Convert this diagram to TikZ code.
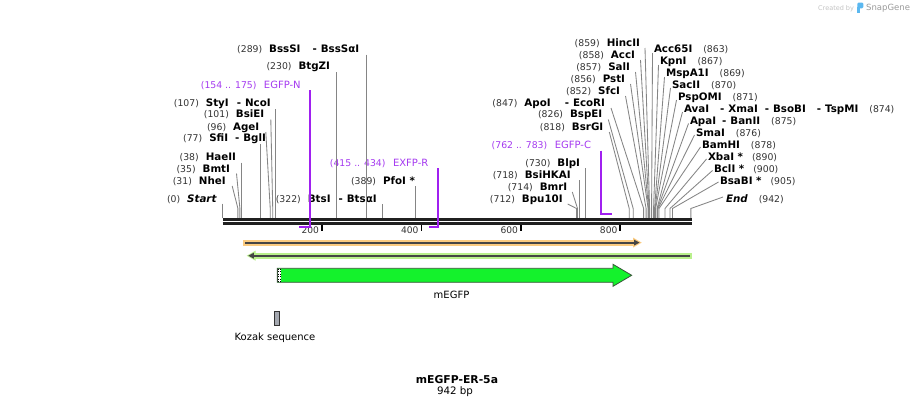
\documentclass[tikz,border=0pt]{standalone}
\usepackage{fontspec}
\setmainfont{DejaVu Sans}
\usetikzlibrary{arrows.meta}
\definecolor{numgray}{HTML}{333333}
\definecolor{sitegray}{HTML}{858585}
\definecolor{bbcol}{HTML}{202020}
\definecolor{primerpurple}{HTML}{A020F0}
\definecolor{primertext}{HTML}{A53AF0}
\definecolor{bandorange}{HTML}{FBCB80}
\definecolor{bandgreen}{HTML}{B9F08C}
\definecolor{banddark}{HTML}{454545}
\definecolor{egfpgreen}{HTML}{14F22C}
\definecolor{egfpedge}{HTML}{3A553A}
\definecolor{kozakgray}{HTML}{A4A8B0}
\definecolor{creditlight}{HTML}{C4C4C4}
\definecolor{creditdark}{HTML}{9A9A9A}
\definecolor{logoblue}{HTML}{5BB8F0}
\newcommand{\snum}[1]{{\fontsize{9.3}{11}\selectfont\color{numgray}#1}}
\newcommand{\sname}[1]{{\fontsize{10.3}{12}\selectfont\bfseries #1}}
\newcommand{\ssep}[1]{\hspace{#1pt}-\hspace{4pt}}
\newcommand{\pnum}[1]{{\fontsize{9.3}{11}\selectfont #1}}
\newcommand{\pname}[1]{{\fontsize{10}{12}\selectfont #1}}
\begin{document}
\begin{tikzpicture}[x=1pt,y=-1pt,
  lefttag/.style={anchor=base east, inner sep=0pt, outer sep=0pt},
  righttag/.style={anchor=base west, inner sep=0pt, outer sep=0pt},
  siteline/.style={draw=sitegray, line width=0.85pt},
  primerline/.style={draw=primerpurple, line width=2pt, line join=miter},
  backbone/.style={draw=bbcol, line width=2.7pt},
  tickmark/.style={draw=black, line width=1.6pt},
  ticklab/.style={anchor=base east, inner sep=0pt, font=\fontsize{9.1}{11}\selectfont, text=numgray},
  plainlab/.style={anchor=base, inner sep=0pt, font=\fontsize{10}{12}\selectfont}
  ]
\useasboundingbox (0,0) rectangle (915,407);
\fill[white] (0,0) rectangle (915,407);

% site coordinates
\foreach \b in {0,31,35,38,77,96,101,107,230,289,322,389,712,714,718,730,818,826,847,852,856,857,858,859,863,867,869,870,871,874,875,876,878,890,900,905,942} {
  \coordinate (s\b) at ({222.5+0.4972*\b},218.3);
  \coordinate (k\b) at ({222.5+0.4972*\b},208.5);
}
\foreach \b in {154,175,415,434} {
  \coordinate (pb\b) at ({222.5+0.4972*\b},227.3);
}
\foreach \b in {762,783} {
  \coordinate (pc\b) at ({222.5+0.4972*\b},214.3);
}

% ---------- labels, left part ----------
\node[lefttag] (lStart) at (216.5,202) {\snum{(0)}\hspace{7pt}\sname{\itshape Start}};
\node[lefttag] (lNheI) at (225.7,184) {\snum{(31)}\hspace{7pt}\sname{NheI}};
\node[lefttag] (lBmtI) at (230,172) {\snum{(35)}\hspace{7pt}\sname{BmtI}};
\node[lefttag] (lHaeII) at (236,160) {\snum{(38)}\hspace{7pt}\sname{HaeII}};
\node[lefttag] (lSfiI) at (266,141.5) {\snum{(77)}\hspace{7pt}\sname{SfiI\ssep{7}BglI}};
\node[lefttag] (lAgeI) at (259.3,130) {\snum{(96)}\hspace{7pt}\sname{AgeI}};
\node[lefttag] (lBsiEI) at (264.3,117.5) {\snum{(101)}\hspace{7pt}\sname{BsiEI}};
\node[lefttag] (lStyI) at (270.7,106) {\snum{(107)}\hspace{7pt}\sname{StyI\ssep{8}NcoI}};
\node[lefttag, text=primertext] (lEGFPN) at (300.7,88) {\pnum{(154 .. 175)}\hspace{7.5pt}\pname{EGFP-N}};
\node[lefttag] (lBtgZI) at (330,69.5) {\snum{(230)}\hspace{7pt}\sname{BtgZI}};
\node[lefttag] (lBssSI) at (359.3,52) {\snum{(289)}\hspace{7pt}\sname{BssSI\ssep{12}BssSαI}};
\node[lefttag] (lBtsI) at (376.7,202) {\snum{(322)}\hspace{7pt}\sname{BtsI\ssep{8}BtsαI}};
\node[lefttag] (lPfoI) at (415,184) {\snum{(389)}\hspace{7pt}\sname{PfoI *}};
\node[lefttag, text=primertext] (lEXFPR) at (428.3,166) {\pnum{(415 .. 434)}\hspace{7.5pt}\pname{EXFP-R}};

% ---------- labels, right part ----------
\node[lefttag] (lBpu10I) at (562.7,202) {\snum{(712)}\hspace{7pt}\sname{Bpu10I}};
\node[lefttag] (lBmrI) at (567.3,190) {\snum{(714)}\hspace{7pt}\sname{BmrI}};
\node[lefttag] (lBsiHKAI) at (570.7,178) {\snum{(718)}\hspace{7pt}\sname{BsiHKAI}};
\node[lefttag] (lBlpI) at (580,166) {\snum{(730)}\hspace{7pt}\sname{BlpI}};
\node[lefttag, text=primertext] (lEGFPC) at (591,148.5) {\pnum{(762 .. 783)}\hspace{7.5pt}\pname{EGFP-C}};
\node[lefttag] (lBsrGI) at (603.3,130) {\snum{(818)}\hspace{7pt}\sname{BsrGI}};
\node[lefttag] (lBspEI) at (602.3,117.5) {\snum{(826)}\hspace{7pt}\sname{BspEI}};
\node[lefttag] (lApoI) at (605,106) {\snum{(847)}\hspace{7pt}\sname{ApoI\ssep{14}EcoRI}};
\node[lefttag] (lSfcI) at (620,94) {\snum{(852)}\hspace{7pt}\sname{SfcI}};
\node[lefttag] (lPstI) at (625,82) {\snum{(856)}\hspace{7pt}\sname{PstI}};
\node[lefttag] (lSalI) at (630,70) {\snum{(857)}\hspace{7pt}\sname{SalI}};
\node[lefttag] (lAccI) at (635,58) {\snum{(858)}\hspace{7pt}\sname{AccI}};
\node[lefttag] (lHincII) at (640,46) {\snum{(859)}\hspace{7pt}\sname{HincII}};

\node[righttag] (lAcc65I) at (654,52) {\sname{Acc65I}\hspace{11pt}\snum{(863)}};
\node[righttag] (lKpnI) at (660,64) {\sname{KpnI}\hspace{11pt}\snum{(867)}};
\node[righttag] (lMspA1I) at (666,76) {\sname{MspA1I}\hspace{11pt}\snum{(869)}};
\node[righttag] (lSacII) at (672,88) {\sname{SacII}\hspace{11pt}\snum{(870)}};
\node[righttag] (lPspOMI) at (678,100) {\sname{PspOMI}\hspace{11pt}\snum{(871)}};
\node[righttag] (lAvaI) at (684,112) {\sname{AvaI\ssep{11}XmaI\ssep{7}BsoBI\ssep{11}TspMI}\hspace{11pt}\snum{(874)}};
\node[righttag] (lApaI) at (690,124) {\sname{ApaI\ssep{6}BanII}\hspace{11pt}\snum{(875)}};
\node[righttag] (lSmaI) at (696,136) {\sname{SmaI}\hspace{11pt}\snum{(876)}};
\node[righttag] (lBamHI) at (702,148) {\sname{BamHI}\hspace{11pt}\snum{(878)}};
\node[righttag] (lXbaI) at (708,160) {\sname{XbaI *}\hspace{9pt}\snum{(890)}};
\node[righttag] (lBclI) at (714,172) {\sname{BclI *}\hspace{9pt}\snum{(900)}};
\node[righttag] (lBsaBI) at (720,184) {\sname{BsaBI *}\hspace{9pt}\snum{(905)}};
\node[righttag] (lEnd) at (726,202) {\sname{\itshape End}\hspace{11pt}\snum{(942)}};

% ---------- site lines ----------
\draw[siteline] (lStart.base -| s0) ++(0,1.5) -- (s0);
\draw[siteline] ([shift={(6.5,2)}]lNheI.base east) -- (k31) -- (s31);
\draw[siteline] ([shift={(6.5,1.5)}]lBmtI.base east) -- (k35) -- (s35);
\draw[siteline] (lHaeII.base -| s38) ++(0,2.5) -- (s38);
\draw[siteline] (lSfiI.base -| s77) ++(0,2.5) -- (s77);
\draw[siteline] ([shift={(6.5,2)}]lAgeI.base east) -- (k96) -- (s96);
\draw[siteline] ([shift={(6.5,2)}]lBsiEI.base east) -- (k101) -- (s101);
\draw[siteline] (lStyI.base -| s107) ++(0,3) -- (s107);
\draw[siteline] (lBtgZI.base -| s230) ++(0,2.5) -- (s230);
\draw[siteline] (lBssSI.base -| s289) ++(0,2.5) -- (s289);
\draw[siteline] (lBtsI.base -| s322) ++(0,2) -- (s322);
\draw[siteline] (lPfoI.base -| s389) ++(0,2) -- (s389);

\draw[siteline] ([shift={(5,2)}]lBpu10I.base east) -- (k712) -- (s712);
\draw[siteline] ([shift={(5,2)}]lBmrI.base east) -- (k714) -- (s714);
\draw[siteline] (lBsiHKAI.base -| s718) ++(0,2) -- (s718);
\draw[siteline] (lBlpI.base -| s730) ++(0,2) -- (s730);
\draw[siteline] ([shift={(6,2)}]lBsrGI.base east) -- (k818) -- (s818);
\draw[siteline] ([shift={(6,2)}]lBspEI.base east) -- (k826) -- (s826);
\draw[siteline] ([shift={(6,2)}]lApoI.base east) -- (k847) -- (s847);
\draw[siteline] ([shift={(5.5,2)}]lSfcI.base east) -- (k852) -- (s852);
\draw[siteline] ([shift={(5.5,2)}]lPstI.base east) -- (k856) -- (s856);
\draw[siteline] ([shift={(5.5,2)}]lSalI.base east) -- (k857) -- (s857);
\draw[siteline] ([shift={(5.5,2)}]lAccI.base east) -- (k858) -- (s858);
\draw[siteline] ([shift={(5,2)}]lHincII.base east) -- (k859) -- (s859);

\draw[siteline] ([shift={(-1.5,1)}]lAcc65I.base west) -- (k863) -- (s863);
\draw[siteline] ([shift={(-1.5,1)}]lKpnI.base west) -- (k867) -- (s867);
\draw[siteline] ([shift={(-1.5,1)}]lMspA1I.base west) -- (k869) -- (s869);
\draw[siteline] ([shift={(-1.5,0)}]lSacII.base west) -- (k870) -- (s870);
\draw[siteline] ([shift={(-1.5,0)}]lPspOMI.base west) -- (k871) -- (s871);
\draw[siteline] ([shift={(-1.5,0)}]lAvaI.base west) -- (k874) -- (s874);
\draw[siteline] ([shift={(-1.5,-0.5)}]lApaI.base west) -- (k875) -- (s875);
\draw[siteline] ([shift={(-1.5,-1)}]lSmaI.base west) -- (k876) -- (s876);
\draw[siteline] ([shift={(-1.5,-1)}]lBamHI.base west) -- (k878) -- (s878);
\draw[siteline] ([shift={(-1.5,-1)}]lXbaI.base west) -- (k890) -- (s890);
\draw[siteline] ([shift={(-1.5,-1.5)}]lBclI.base west) -- (k900) -- (s900);
\draw[siteline] ([shift={(-1.5,-2)}]lBsaBI.base west) -- (k905) -- (s905);
\draw[siteline] ([shift={(-3,-5)}]lEnd.base west) -- (k942) -- (s942);

% ---------- backbone ----------
\coordinate (bbA1) at (222.5,219.6);
\coordinate (bbB1) at (691.5,219.6);
\coordinate (bbA2) at (222.5,223.7);
\coordinate (bbB2) at (691.5,223.7);
\draw[backbone] (bbA1) -- (bbB1);
\draw[backbone] (bbA2) -- (bbB2);

% ---------- ticks ----------
\foreach \t in {200,400,600,800} {
  \coordinate (tk\t) at ({222.5+0.4972*\t},225);
  \coordinate (tb\t) at ({222.5+0.4972*\t},231);
  \draw[tickmark] (tk\t) -- (tb\t);
  \node[ticklab] (tl\t) at ({222.5+0.4972*\t-2.7},233.2) {\t};
}

% ---------- primers ----------
\draw[primerline] (lEGFPN.base -| pb175) ++(0,2) -- (pb175) -- (pb154);
\draw[primerline] (lEXFPR.base -| pb434) ++(0,2) -- (pb434) -- (pb415);
\draw[primerline] (lEGFPC.base -| pc762) ++(0,2) -- (pc762) -- (pc783);

% ---------- orange band (forward) ----------
\fill[bandorange] (242.7,239.6) rectangle (634.5,245.6);
\fill[bandorange] (633,237.6) -- (641.7,242.6) -- (633,247.6) -- cycle;
\coordinate (obS) at (245,242.6);
\coordinate (obE) at (635,242.6);
\draw[banddark, line width=2pt] (obS) -- (obE);
\fill[banddark] (634,239.6) -- (639.5,242.6) -- (634,245.6) -- cycle;

% ---------- green band (reverse) ----------
\fill[bandgreen] (254,252.7) rectangle (691.7,258.7);
\fill[bandgreen] (255.5,250.7) -- (246.7,255.7) -- (255.5,260.7) -- cycle;
\coordinate (gbS) at (690,255.7);
\coordinate (gbE) at (253,255.7);
\draw[banddark, line width=2pt] (gbS) -- (gbE);
\fill[banddark] (253.8,252.7) -- (248.3,255.7) -- (253.8,258.7) -- cycle;

% ---------- mEGFP feature ----------
\filldraw[fill=egfpgreen, draw=egfpedge, line width=0.8pt, line join=miter]
  (277.3,268.3) -- (613,268.3) -- (613,264.3) -- (631.7,275.3) -- (613,286.3) -- (613,282.3) -- (277.3,282.3) -- cycle;
\fill[white] (277.8,268.8) rectangle (280.8,281.8);
\draw[black, dotted, line width=0.5pt] (278.4,268.8) -- (278.4,281.8);
\draw[black, dotted, line width=0.5pt] (280.2,268.8) -- (280.2,281.8);
\draw[egfpedge, line width=0.8pt] (277.3,268.3) -- (277.3,282.3);
\node[plainlab] (lmEGFP) at (451.5,298.5) {mEGFP};

% ---------- Kozak ----------
\filldraw[fill=kozakgray, draw=black!80, line width=0.7pt] (274.5,311.2) rectangle (279.8,325.5);
\node[plainlab] (lKozak) at (275,340.7) {Kozak sequence};

% ---------- title ----------
\node[anchor=base, inner sep=0pt, font=\fontsize{10.8}{13}\selectfont\bfseries] (title) at (457,383) {mEGFP-ER-5a};
\node[anchor=base, inner sep=0pt, font=\fontsize{10.3}{12}\selectfont] (length) at (455,394.5) {942 bp};

% ---------- credit ----------
\node[anchor=base west, inner sep=0pt, text=creditlight, font=\fontsize{6.5}{8}\selectfont] (credA) at (818,10) {Created by};
\fill[logoblue, rounded corners=1.2pt] (857.3,2.5) rectangle (863.3,8.3);
\fill[logoblue] (857.3,7) rectangle (859.6,12.5);
\node[anchor=base west, inner sep=0pt, text=creditdark, font=\fontsize{8.5}{10}\selectfont] (credB) at (866,10.8) {SnapGene};
\end{tikzpicture}
\end{document}
